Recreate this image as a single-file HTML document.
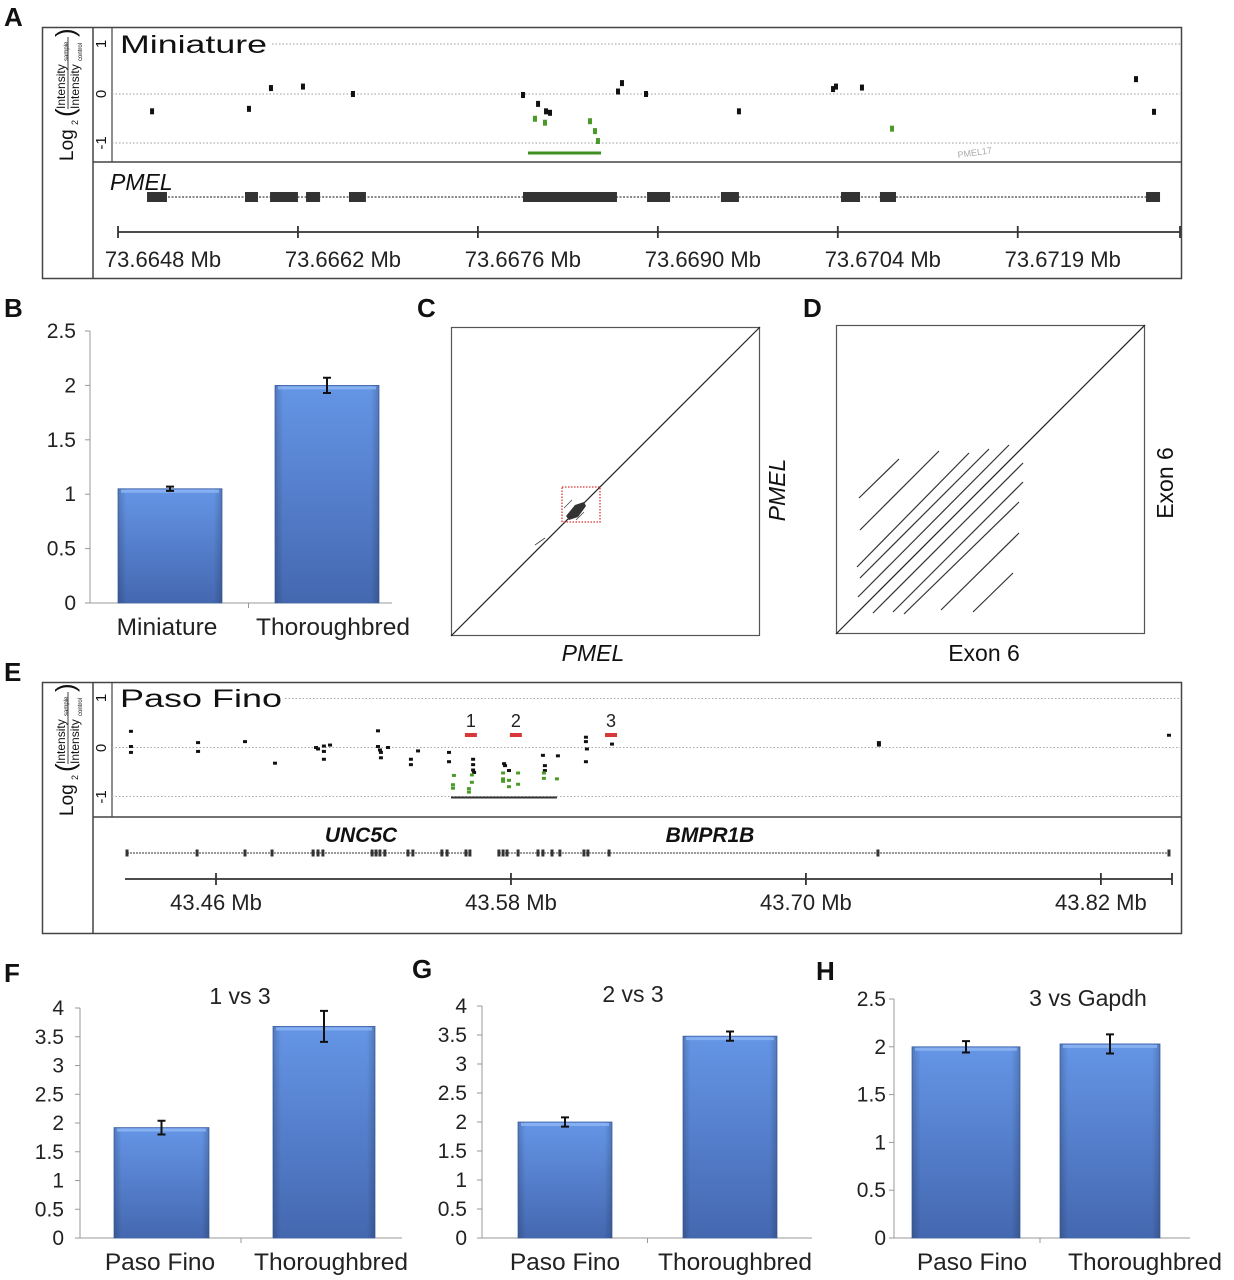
<!DOCTYPE html>
<html><head><meta charset="utf-8">
<style>
html,body{margin:0;padding:0;background:#fff;}
svg{display:block;font-family:"Liberation Sans",Arial,sans-serif;}
</style></head>
<body>
<svg id="fig" width="1234" height="1280" viewBox="0 0 1234 1280" xmlns="http://www.w3.org/2000/svg">
<defs>
<linearGradient id="barGrad" x1="0" y1="0" x2="0" y2="1">
<stop offset="0" stop-color="#6595e6"/><stop offset="1" stop-color="#4468b0"/>
</linearGradient>
<linearGradient id="barSide" x1="0" y1="0" x2="1" y2="0">
<stop offset="0" stop-color="#000" stop-opacity="0.18"/><stop offset="0.08" stop-color="#000" stop-opacity="0"/>
<stop offset="0.92" stop-color="#000" stop-opacity="0"/><stop offset="1" stop-color="#000" stop-opacity="0.18"/>
</linearGradient>
</defs>
<g font-weight="bold" font-size="26" fill="#111">
<text x="4" y="26">A</text>
<text x="4" y="317">B</text>
<text x="417" y="317">C</text>
<text x="803" y="317">D</text>
<text x="4" y="681">E</text>
<text x="4" y="982">F</text>
<text x="412" y="978">G</text>
<text x="816" y="980">H</text>
</g>

<g>
<rect x="42.5" y="27.5" width="1139" height="251" fill="none" stroke="#444" stroke-width="1.5"/>
<line x1="93" y1="27" x2="93" y2="279" stroke="#444" stroke-width="1.5"/>
<line x1="93" y1="162" x2="1182" y2="162" stroke="#444" stroke-width="1.5"/>
<line x1="112" y1="27" x2="112" y2="162" stroke="#444" stroke-width="1.2"/>
<g stroke="#999" stroke-dasharray="1.5,2" stroke-width="1">
<line x1="272" y1="44" x2="1180" y2="44"/><line x1="112" y1="94" x2="1180" y2="94"/><line x1="112" y1="143" x2="1180" y2="143"/>
</g>
<text x="120" y="53" font-size="25" textLength="147" lengthAdjust="spacingAndGlyphs" fill="#111">Miniature</text>
<g font-size="15" fill="#111">
<text transform="translate(106,44) rotate(-90)" text-anchor="middle">1</text>
<text transform="translate(106,94) rotate(-90)" text-anchor="middle">0</text>
<text transform="translate(106,143) rotate(-90)" text-anchor="middle">-1</text>
</g>
<g transform="translate(67,95) rotate(-90)" fill="#111">
<text x="-66" y="6" font-size="19">Log</text><text x="-30" y="11" font-size="9">2</text>
<text x="-22" y="7" font-size="26">(</text>
<text x="-14" y="-2" font-size="12">Intensity</text><text x="34" y="1" font-size="6">sample</text>
<line x1="-14" y1="1" x2="58" y2="1" stroke="#111" stroke-width="0.8"/>
<text x="-14" y="12" font-size="12">Intensity</text><text x="34" y="15" font-size="6">control</text>
<text x="58" y="7" font-size="26">)</text>
</g>
<text x="110" y="190" font-size="23" font-style="italic" fill="#111">PMEL</text>
<text x="958" y="158" font-size="9" fill="#aaa" transform="rotate(-8,958,158)">PMEL17</text>
<g id="aTrack"></g><g id="aDots"></g><g id="aAxis"></g>
</g>

<g id="chartB"></g>

<g>
<rect x="451.5" y="327.5" width="308" height="308" fill="none" stroke="#555" stroke-width="1.2"/>
<line x1="451" y1="636" x2="760" y2="327" stroke="#222" stroke-width="1.2"/>
<rect x="562" y="487" width="38" height="35" fill="none" stroke="#d33" stroke-width="1.3" stroke-dasharray="1.5,1.5"/>
<polygon points="566,516 575,505 584,502 586,506 578,517 569,520" fill="#333"/>
<g stroke="#444" stroke-width="0.8"><line x1="535" y1="545" x2="545" y2="538"/><line x1="564" y1="508" x2="572" y2="500"/><line x1="576" y1="520" x2="584" y2="512"/></g>
<text x="593" y="661" font-size="23" font-style="italic" text-anchor="middle" fill="#111">PMEL</text>
<text transform="translate(785,490) rotate(-90)" font-size="23" font-style="italic" text-anchor="middle" fill="#111">PMEL</text>
</g>

<g>
<rect x="836.5" y="325.5" width="308" height="308" fill="none" stroke="#555" stroke-width="1.2"/>
<line x1="836" y1="634" x2="1145" y2="325" stroke="#222" stroke-width="1.2"/>
<g id="dLines" stroke="#333" stroke-width="1.2"></g>
<text x="984" y="661" font-size="23" text-anchor="middle" fill="#111">Exon 6</text>
<text transform="translate(1173,483) rotate(-90)" font-size="23" text-anchor="middle" fill="#111">Exon 6</text>
</g>

<g>
<rect x="42.5" y="682.5" width="1139" height="251" fill="none" stroke="#444" stroke-width="1.5"/>
<line x1="93" y1="682" x2="93" y2="934" stroke="#444" stroke-width="1.5"/>
<line x1="93" y1="817" x2="1182" y2="817" stroke="#444" stroke-width="1.5"/>
<line x1="112" y1="682" x2="112" y2="817" stroke="#444" stroke-width="1.2"/>
<g stroke="#aaa" stroke-dasharray="1.5,2" stroke-width="1">
<line x1="285" y1="698.5" x2="1180" y2="698.5"/><line x1="112" y1="747.5" x2="1180" y2="747.5"/><line x1="112" y1="796.5" x2="1180" y2="796.5"/>
</g>
<text x="120" y="707" font-size="25" textLength="162" lengthAdjust="spacingAndGlyphs" fill="#111">Paso Fino</text>
<g font-size="15" fill="#111">
<text transform="translate(106,698) rotate(-90)" text-anchor="middle">1</text>
<text transform="translate(106,748) rotate(-90)" text-anchor="middle">0</text>
<text transform="translate(106,797) rotate(-90)" text-anchor="middle">-1</text>
</g>
<g transform="translate(67,750) rotate(-90)" fill="#111">
<text x="-66" y="6" font-size="19">Log</text><text x="-30" y="11" font-size="9">2</text>
<text x="-22" y="7" font-size="26">(</text>
<text x="-14" y="-2" font-size="12">Intensity</text><text x="34" y="1" font-size="6">sample</text>
<line x1="-14" y1="1" x2="58" y2="1" stroke="#111" stroke-width="0.8"/>
<text x="-14" y="12" font-size="12">Intensity</text><text x="34" y="15" font-size="6">control</text>
<text x="58" y="7" font-size="26">)</text>
</g>
<text x="361" y="842" font-size="21" font-weight="bold" font-style="italic" text-anchor="middle" fill="#111">UNC5C</text>
<text x="710" y="842" font-size="21" font-weight="bold" font-style="italic" text-anchor="middle" fill="#111">BMPR1B</text>
<g id="eTrack"></g><g id="eDots"></g><g id="eAxis"></g>
</g>

<g id="chartF"></g>
<g id="chartG"></g>
<g id="chartH"></g>
</svg>

<script>
const aBlackPos = [265,1019,1190,1439,1828,3151,3268,3330,3361,3890,3921,4108,4831,5563,5586,5788,7920,8060];
const aBlackVal = [-0.35,-0.3,0.12,0.15,0,-0.02,-0.2,-0.35,-0.38,0.05,0.22,0,-0.35,0.1,0.15,0.13,0.3,-0.36];
const aGreenPos = [3244,3322,3672,3711,3734,6022];
const aGreenVal = [-0.5,-0.58,-0.55,-0.75,-0.95,-0.7];
const aExonStart = [226,988,1183,1463,1797,3151,4116,4691,5625,5928,7998];
const aExonEnd = [381,1089,1400,1572,1929,3882,4295,4831,5773,6053,8107];
const aTickLabels = ["73.6648 Mb","73.6662 Mb","73.6676 Mb","73.6690 Mb","73.6704 Mb","73.6719 Mb"];
const aTickPos = [0,1400,2800,4200,5600,7000];
const aDelSpan = [3190,3758];

const eBlackPos = [43.4254,43.4254,43.4254,43.4527,43.4527,43.4718,43.4840,43.5007,43.5015,43.5039,43.5039,43.5039,43.5064,
 43.5259,43.5259,43.5267,43.5271,43.5271,43.5300,43.5393,43.5393,43.5422,43.5548,43.5548,43.5646,43.5646,43.5646,43.5650,
 43.5772,43.5776,43.5792,43.5930,43.5938,43.5938,43.5991,43.6105,43.6105,43.6109,43.6105,43.6211,43.7297,43.7297,43.8477];
const eBlackVal = [0.33,0.02,-0.1,0.1,-0.08,0.12,-0.32,0,-0.03,0.03,-0.08,-0.24,0.05,
 0.34,0.02,-0.05,-0.1,-0.21,0,-0.24,-0.35,-0.07,-0.1,-0.29,-0.24,-0.35,-0.46,-0.51,
 -0.33,-0.37,-0.47,-0.16,-0.37,-0.47,-0.17,0.21,0.12,-0.03,-0.29,0.07,0.1,0.05,0.25];
const eGreenPos = [43.5568,43.5564,43.5564,43.5629,43.5629,43.5641,43.5641,43.5768,43.5768,43.5768,43.5792,43.5792,43.5829,43.5829,43.5934,43.5934,43.5987];
const eGreenVal = [-0.57,-0.76,-0.83,-0.91,-0.84,-0.56,-0.71,-0.52,-0.64,-0.69,-0.67,-0.8,-0.52,-0.75,-0.52,-0.63,-0.64];
const eProbePos = [43.5637,43.5820,43.6207];
const eProbeLabels = ["1","2","3"];
const eUncExons = [43.4238,43.4523,43.4718,43.4828,43.4995,43.5015,43.5035,43.5235,43.5251,43.5267,43.5287,43.5381,43.5401,43.5519,43.5540,43.5617,43.5633];
const eBmpExons = [43.5751,43.5768,43.5784,43.5829,43.5910,43.5930,43.5967,43.5999,43.6097,43.6113,43.6199,43.7293,43.8477];
const eUncSpan = [43.4238,43.5633];
const eBmpSpan = [43.5751,43.8477];
const eTickPos = [43.46,43.58,43.70,43.82];
const eTickLabels = ["43.46 Mb","43.58 Mb","43.70 Mb","43.82 Mb"];
const eDelSpan = [43.5556,43.5987];

const bCategories = ["Miniature","Thoroughbred"];
const bValues = [1.05,2.0];
const bErrors = [0.02,0.07];
const bTicks = ["0","0.5","1","1.5","2","2.5"];
const fCategories = ["Paso Fino","Thoroughbred"];
const fValues = [1.92,3.68];
const fErrors = [0.12,0.27];
const fTicks = ["0","0.5","1","1.5","2","2.5","3","3.5","4"];
const gCategories = ["Paso Fino","Thoroughbred"];
const gValues = [2.0,3.48];
const gErrors = [0.08,0.08];
const gTicks = ["0","0.5","1","1.5","2","2.5","3","3.5","4"];
const hCategories = ["Paso Fino","Thoroughbred"];
const hValues = [2.0,2.03];
const hErrors = [0.06,0.1];
const hTicks = ["0","0.5","1","1.5","2","2.5"];

const dSegX1 = [859,860,857,860,858,873,893,904,941,973];
const dSegY1 = [498,530,567,578,597,613,612,614,610,612];
const dSegX2 = [899,939,969,989,1009,1023,1023,1019,1019,1013];
const dSegY2 = [459,451,453,449,445,463,482,502,533,573];

const NS = "http://www.w3.org/2000/svg";
function mk(tag, attrs, parent){
  const el = document.createElementNS(NS, tag);
  for (const k in attrs) el.setAttribute(k, attrs[k]);
  parent.appendChild(el);
  return el;
}

const xA = bp => 118 + bp/7.78;
const yA = v => 94 - 49.5*v;
(function(){
  const tr = document.getElementById('aTrack');
  let l = mk('line',{x1:xA(aExonStart[0]),x2:xA(aExonEnd[aExonEnd.length-1]),y1:197,y2:197,stroke:'#888','stroke-width':2,'stroke-dasharray':'2,1.5'},tr);
  
  
  aExonStart.forEach((s,i)=>{
    const r = mk('rect',{x:xA(s),y:192,width:xA(aExonEnd[i])-xA(s),height:10,fill:'#333'},tr);
    
    
  });
  const d = document.getElementById('aDots');
  aBlackPos.forEach((p,i)=>{
    const r = mk('rect',{x:xA(p)-2,y:yA(aBlackVal[i])-3,width:4,height:6,fill:'#111'},d);
    
    
  });
  aGreenPos.forEach((p,i)=>{
    const r = mk('rect',{x:xA(p)-2,y:yA(aGreenVal[i])-3,width:4,height:6,fill:'#4a9a2a'},d);
    
    
  });
  const g = mk('line',{x1:xA(aDelSpan[0]),x2:xA(aDelSpan[1]),y1:153,y2:153,stroke:'#3f8f20','stroke-width':3},d);
  
  
  const ax = document.getElementById('aAxis');
  const al = mk('line',{x1:xA(aTickPos[0]),x2:1180,y1:232,y2:232,stroke:'#333','stroke-width':1.8},ax);
  
  
  mk('line',{x1:1180,x2:1180,y1:226,y2:238,stroke:'#333','stroke-width':1.8},ax);
  aTickPos.forEach((p,i)=>{
    mk('line',{x1:xA(p),x2:xA(p),y1:226,y2:238,stroke:'#333','stroke-width':1.8},ax);
    const t = mk('text',{x:xA(p)+45,y:267,'font-size':22,'text-anchor':'middle',fill:'#222'},ax);
    t.textContent = aTickLabels[i];
    
    
  });
})();

const xE = mb => 216 + (mb-43.46)*2458;
const yE = v => 747.5 - 49*v;
(function(){
  const tr = document.getElementById('eTrack');
  [eUncSpan,eBmpSpan].forEach(s=>{
    const l = mk('line',{x1:xE(s[0]),x2:xE(s[1]),y1:853,y2:853,stroke:'#777','stroke-width':1.5,'stroke-dasharray':'2,1'},tr);
    
    
  });
  eUncExons.concat(eBmpExons).forEach(p=>{
    const r = mk('rect',{x:xE(p)-1.5,y:849.5,width:3,height:7,fill:'#333'},tr);
    
    
  });
  const d = document.getElementById('eDots');
  eBlackPos.forEach((p,i)=>{
    const r = mk('rect',{x:xE(p)-2,y:yE(eBlackVal[i])-1.5,width:4,height:3,fill:'#111'},d);
    
    
  });
  eGreenPos.forEach((p,i)=>{
    const r = mk('rect',{x:xE(p)-2,y:yE(eGreenVal[i])-1.5,width:4,height:3,fill:'#4a9a2a'},d);
    
    
  });
  const bl = mk('line',{x1:xE(eDelSpan[0]),x2:xE(eDelSpan[1]),y1:797.5,y2:797.5,stroke:'#333','stroke-width':2},d);
  
  
  eProbePos.forEach((p,i)=>{
    const r = mk('rect',{x:xE(p)-6,y:733,width:12,height:4,fill:'#d83838'},d);
    
    
    const t = mk('text',{x:xE(p),y:727,'font-size':18,'text-anchor':'middle',fill:'#222'},d);
    t.textContent = eProbeLabels[i];
    
    
  });
  const ax = document.getElementById('eAxis');
  const al = mk('line',{x1:125,x2:1172,y1:879,y2:879,stroke:'#333','stroke-width':1.8},ax);
  
  
  mk('line',{x1:1172,x2:1172,y1:873,y2:885,stroke:'#333','stroke-width':1.8},ax);
  eTickPos.forEach((p,i)=>{
    mk('line',{x1:xE(p),x2:xE(p),y1:873,y2:885,stroke:'#333','stroke-width':1.8},ax);
    const t = mk('text',{x:xE(p),y:910,'font-size':22,'text-anchor':'middle',fill:'#222'},ax);
    t.textContent = eTickLabels[i];
    
    
  });
})();

(function(){
  const g = document.getElementById('dLines');
  dSegX1.forEach((x,i)=>{
    const l = mk('line',{x1:x,y1:dSegY1[i],x2:dSegX2[i],y2:dSegY2[i]},g);
    
    
  });
})();

function barChart(id, cfg, cats, vals, errs, ticks){
  const g = document.getElementById(id);
  const step = parseFloat(ticks[1]);
  const maxV = parseFloat(ticks[ticks.length-1]);
  const y = v => cfg.y0 - (cfg.y0 - cfg.yTop) * v / maxV;
  const ax = mk('line',{x1:cfg.axX,x2:cfg.axX,y1:cfg.yTop,y2:cfg.y0,stroke:'#999','stroke-width':1},g);
  
  
  const base = mk('line',{x1:cfg.axX,x2:cfg.baseEnd,y1:cfg.y0,y2:cfg.y0,stroke:'#999','stroke-width':1},g);
  
  
  ticks.forEach((tk,i)=>{
    const v = i*step;
    mk('line',{x1:cfg.axX-5,x2:cfg.axX,y1:y(v),y2:y(v),stroke:'#999'},g);
    const t = mk('text',{x:cfg.labX,y:y(v)+7,'font-size':21,'text-anchor':'end',fill:'#222'},g);
    t.textContent = tk;
    
    
  });
  const mid = (cfg.barX[0]+cfg.barW[0]+cfg.barX[1])/2;
  mk('line',{x1:mid,x2:mid,y1:cfg.y0,y2:cfg.y0+5,stroke:'#999'},g);
  cats.forEach((c,i)=>{
    const x = cfg.barX[i], w = cfg.barW[i], top = y(vals[i]);
    const r = mk('rect',{x:x,y:top,width:w,height:cfg.y0-top,fill:'url(#barGrad)',stroke:'#4566a8','stroke-width':0.8},g);
    
    
    mk('rect',{x:x,y:top,width:w,height:cfg.y0-top,fill:'url(#barSide)'},g);
    mk('rect',{x:x+3,y:top+1,width:w-6,height:3,fill:'#8fb6f2',opacity:0.8},g);
    const cx = x + w/2, e1 = y(vals[i]+errs[i]), e2 = y(vals[i]-errs[i]);
    const eb = mk('path',{d:`M${cx},${e1}V${e2}M${cx-4},${e1}H${cx+4}M${cx-4},${e2}H${cx+4}`,stroke:'#111','stroke-width':2,fill:'none'},g);
    
    
    const t = mk('text',{x:cfg.catX[i],y:cfg.y0+32,'font-size':24.5,'text-anchor':'middle',fill:'#222'},g);
    t.textContent = c;
    
    
  });
  if (cfg.title){
    const t = mk('text',{x:cfg.titleX,y:cfg.titleY,'font-size':23,'text-anchor':'middle',fill:'#222'},g);
    t.textContent = cfg.title;
    
    
  }
}
barChart('chartB',{y0:603,yTop:331,axX:90,baseEnd:392,labX:76,barX:[118,275],barW:[104,104],catX:[167,333]},bCategories,bValues,bErrors,bTicks);
barChart('chartF',{y0:1238,yTop:1008,axX:80,baseEnd:402,labX:64,barX:[114,273],barW:[95,102],catX:[160,331],title:'1 vs 3',titleX:240,titleY:1004},fCategories,fValues,fErrors,fTicks);
barChart('chartG',{y0:1238,yTop:1006,axX:482,baseEnd:812,labX:467,barX:[518,683],barW:[94,94],catX:[565,735],title:'2 vs 3',titleX:633,titleY:1002},gCategories,gValues,gErrors,gTicks);
barChart('chartH',{y0:1238,yTop:999,axX:894,baseEnd:1190,labX:886,barX:[912,1060],barW:[108,100],catX:[972,1145],title:'3 vs Gapdh',titleX:1088,titleY:1006},hCategories,hValues,hErrors,hTicks);
</script>
</body></html>
